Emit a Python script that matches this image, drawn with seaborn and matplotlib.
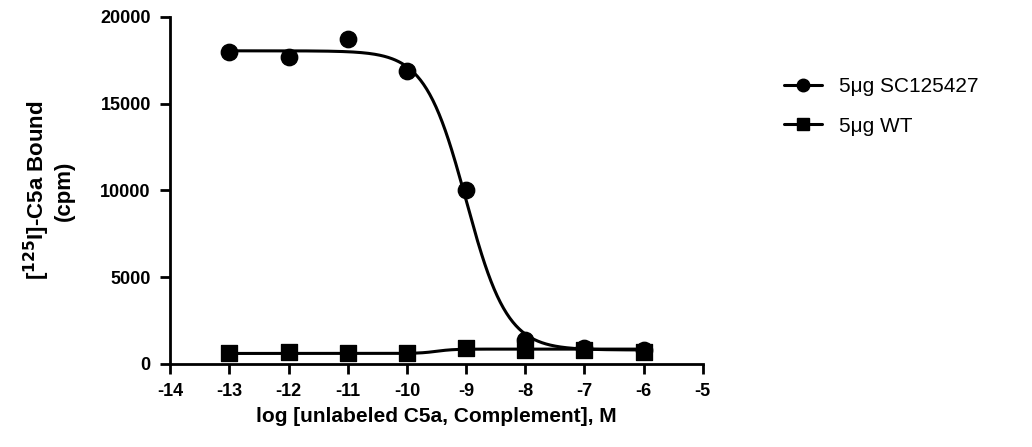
import numpy as np
import pandas as pd
import matplotlib
matplotlib.use("Agg")
import matplotlib.pyplot as plt
import seaborn as sns

# measured points
log_conc = [-13, -12, -11, -10, -9, -8, -7, -6]
sc125427 = [18000, 17700, 18750, 16900, 10000, 1400, 900, 800]
wt = [600, 700, 600, 600, 900, 800, 800, 700]

# 4-parameter logistic fit parameters
sc_fit = dict(bottom=800, top=18050, logec50=-9.0, hill=-1.25)
wt_fit = dict(bottom=600, top=850, logec50=-9.5, hill=3.0)

x_ticks = [-14, -13, -12, -11, -10, -9, -8, -7, -6, -5]
y_ticks = [0, 5000, 10000, 15000, 20000]


def four_pl(x, bottom, top, logec50, hill):
    return bottom + (top - bottom) / (1 + 10 ** ((logec50 - x) * hill))


sns.set_style("ticks", {"text.color": "black", "axes.labelcolor": "black",
                        "xtick.color": "black", "ytick.color": "black",
                        "axes.edgecolor": "black"})
plt.rcParams["font.family"] = ["Liberation Sans", "DejaVu Sans"]

fig = plt.figure(figsize=(10.32, 4.47), dpi=100)
ax = fig.add_axes([0.165, 0.186, 0.516, 0.776])

xs = np.linspace(-13, -6, 400)
curves = pd.DataFrame({
    "x": np.concatenate([xs, xs]),
    "y": np.concatenate([four_pl(xs, **sc_fit), four_pl(xs, **wt_fit)]),
    "group": ["SC"] * len(xs) + ["WT"] * len(xs),
})
pts = pd.DataFrame({
    "x": log_conc + log_conc,
    "y": sc125427 + wt,
    "group": ["SC"] * len(log_conc) + ["WT"] * len(log_conc),
})

sns.lineplot(data=curves, x="x", y="y", units="group", estimator=None,
             color="black", linewidth=2.2, ax=ax, legend=False)
sns.scatterplot(data=pts[pts.group == "SC"], x="x", y="y", marker="o", s=140,
                color="black", edgecolor="black", ax=ax, zorder=3)
sns.scatterplot(data=pts[pts.group == "WT"], x="x", y="y", marker="s", s=140,
                color="black", edgecolor="black", ax=ax, zorder=4)

ax.set_xlim(-14, -5)
ax.set_ylim(0, 20000)
ax.set_xticks(x_ticks)
ax.set_yticks(y_ticks)
ax.set_xticklabels([str(t) for t in x_ticks], fontsize=13, fontweight="bold")
ax.set_yticklabels([str(t) for t in y_ticks], fontsize=13, fontweight="bold")
ax.tick_params(direction="out", length=7, width=2, pad=7, colors="black")
for side in ["left", "bottom"]:
    ax.spines[side].set_linewidth(2)
sns.despine(ax=ax)

ax.set_xlabel("log [unlabeled C5a, Complement], M", fontsize=15,
              fontweight="bold", labelpad=5, color="black")
ax.set_ylabel("[$^{\\bf 125}$I]-C5a Bound\n(cpm)", fontsize=16,
              fontweight="bold", labelpad=18, linespacing=1.15, color="black")

handles = [
    plt.Line2D([], [], color="black", lw=2.2, marker="o", markersize=9),
    plt.Line2D([], [], color="black", lw=2.2, marker="s", markersize=9),
]
leg = fig.legend(handles, ["5\u03bcg SC125427", "5\u03bcg WT"], loc="upper left",
                 bbox_to_anchor=(0.742, 0.87), frameon=False, fontsize=15,
                 handlelength=1.8, labelspacing=1.0, handletextpad=0.8)
for t in leg.get_texts():
    t.set_color("black")

fig.savefig("out.png", dpi=100)
